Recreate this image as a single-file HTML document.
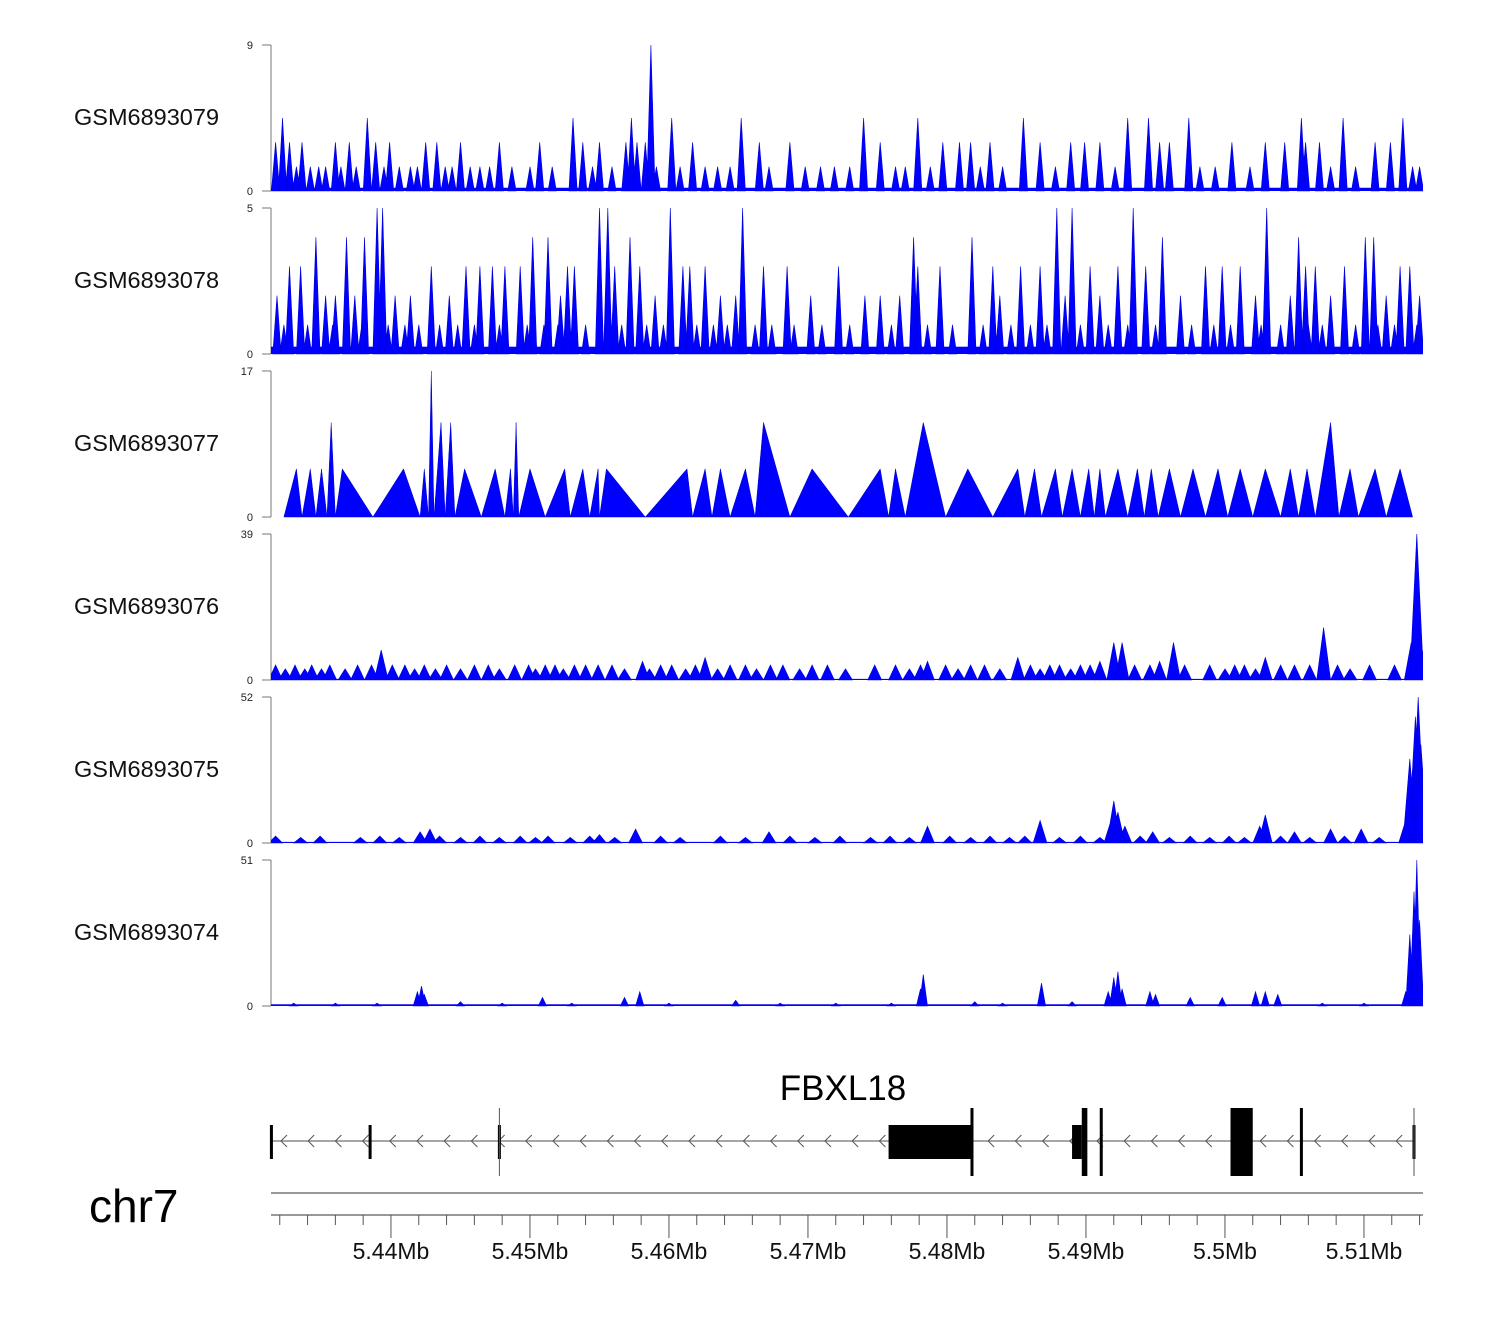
<!DOCTYPE html>
<html><head><meta charset="utf-8">
<style>
body{margin:0;background:#fff;width:1500px;height:1320px;overflow:hidden}
svg text{font-family:"Liberation Sans",sans-serif}
</style></head>
<body>
<svg id="chart" width="1500" height="1320" xmlns="http://www.w3.org/2000/svg">
<defs><clipPath id="plotclip"><rect x="271" y="0" width="1152" height="1320"/></clipPath></defs>
</svg>
<script>
// ---- data ----
const sampleNames = ["GSM6893079","GSM6893078","GSM6893077","GSM6893076","GSM6893075","GSM6893074"];
const yMax = [9,5,17,39,52,51];
const floorVals = [0.2,0.25,0,0.3,0.4,0.6];
const halfWidthKb = [0.3,0.3,0,0.5,0.5,0.3];

const t1Pos = [5431.7,5432.2,5432.7,5433.2,5433.6,5434.2,5434.8,5435.3,5436.0,5436.4,5437.0,5437.5,5438.3,5438.9,5439.5,5439.9,5440.6,5441.4,5441.9,5442.5,5443.3,5443.9,5444.4,5445.0,5445.7,5446.4,5447.1,5447.8,5448.7,5450.0,5450.7,5451.6,5453.1,5453.8,5454.5,5455.0,5455.9,5456.9,5457.3,5457.7,5458.3,5458.7,5459.1,5460.2,5460.8,5461.7,5462.6,5463.5,5464.4,5465.2,5466.5,5467.2,5468.7,5469.8,5470.9,5471.9,5473.0,5474.0,5475.2,5476.3,5477.0,5477.9,5478.8,5479.7,5480.9,5481.7,5482.4,5483.1,5484.0,5485.5,5486.7,5487.8,5488.9,5489.9,5491.0,5492.1,5493.0,5494.5,5495.3,5496.0,5497.4,5498.2,5499.3,5500.5,5501.8,5502.9,5504.3,5505.5,5505.8,5506.8,5507.6,5508.5,5509.4,5510.8,5511.9,5512.8,5513.5,5514.0];
const t1Val = [3,4.5,3,1.5,3,1.5,1.5,1.5,3,1.5,3,1.5,4.5,3,1.5,3,1.5,1.5,1.5,3,3,1.5,1.5,3,1.5,1.5,1.5,3,1.5,1.5,3,1.5,4.5,3,1.5,3,1.5,3,4.5,3,3,9,1.5,4.5,1.5,3,1.5,1.5,1.5,4.5,3,1.5,3,1.5,1.5,1.5,1.5,4.5,3,1.5,1.5,4.5,1.5,3,3,3,1.5,3,1.5,4.5,3,1.5,3,3,3,1.5,4.5,4.5,3,3,4.5,1.5,1.5,3,1.5,3,3,4.5,3,3,1.5,4.5,1.5,3,3,4.5,1.5,1.5];

const t2Pos = [5439.0,5439.4,5455.0,5455.6,5460.1,5465.3,5487.9,5489.0,5493.4,5503.0,
 5434.6,5436.8,5438.1,5450.2,5451.3,5457.2,5477.6,5481.8,5495.5,5505.3,5510.1,5510.7,
 5432.7,5433.5,5442.9,5445.4,5446.4,5447.3,5448.2,5449.3,5452.7,5453.2,5456.1,5457.9,5461.0,5461.5,5462.6,5466.8,5468.5,5472.2,5477.9,5479.5,5483.3,5485.3,5486.7,5490.3,5492.3,5494.3,5498.6,5499.8,5501.1,5505.8,5506.5,5508.6,5512.6,5513.3,
 5431.8,5435.3,5436.0,5437.4,5440.3,5441.4,5444.2,5452.2,5459.0,5463.7,5464.8,5470.2,5474.1,5475.2,5476.6,5483.8,5488.5,5491.0,5496.8,5502.2,5504.7,5507.6,5511.6,5514.0,
 5432.3,5434.0,5435.8,5437.9,5439.8,5441.0,5442.0,5443.5,5444.8,5446.0,5447.8,5449.8,5451.0,5452.0,5454.0,5456.6,5458.4,5459.6,5462.0,5463.2,5464.2,5466.2,5467.4,5469.0,5471.0,5473.0,5476.0,5478.6,5480.4,5482.6,5484.6,5486.0,5487.2,5489.6,5491.6,5493.0,5495.0,5497.6,5499.2,5500.4,5502.6,5504.0,5506.0,5507.0,5509.4,5511.0,5512.2,5513.8];
const t2Val = [5,5,5,5,5,5,5,5,5,5,
 4,4,4,4,4,4,4,4,4,4,4,4,
 3,3,3,3,3,3,3,3,3,3,3,3,3,3,3,3,3,3,3,3,3,3,3,3,3,3,3,3,3,3,3,3,3,3,
 2,2,2,2,2,2,2,2,2,2,2,2,2,2,2,2,2,2,2,2,2,2,2,2,
 1,1,1,1,1,1,1,1,1,1,1,1,1,1,1,1,1,1,1,1,1,1,1,1,1,1,1,1,1,1,1,1,1,1,1,1,1,1,1,1,1,1,1,1,1,1,1,1];

const t3Pos = [5432.3,5433.2,5433.6,5434.2,5434.6,5435.0,5435.4,5435.7,5436.0,5436.5,5438.7,5440.9,5442.1,5442.4,5442.7,5442.9,5443.1,5443.6,5443.9,5444.3,5444.6,5445.3,5446.5,5447.5,5448.2,5448.6,5448.8,5449.0,5449.2,5450.0,5451.1,5452.5,5452.9,5453.8,5454.3,5454.9,5455.0,5455.5,5458.3,5461.3,5461.7,5462.6,5463.1,5463.7,5464.4,5465.5,5466.2,5466.8,5468.7,5470.3,5472.9,5475.2,5475.8,5476.3,5477.0,5478.3,5479.9,5481.5,5483.3,5485.1,5485.6,5486.3,5486.8,5487.8,5488.3,5489.0,5489.6,5490.2,5490.6,5491.0,5491.4,5492.3,5493.0,5493.7,5494.2,5494.7,5495.2,5496.0,5496.8,5497.7,5498.6,5499.5,5500.2,5501.1,5502.0,5502.9,5504.0,5504.7,5505.3,5505.9,5506.5,5507.6,5508.2,5509.0,5509.6,5510.8,5511.6,5512.6,5513.5];
const t3Val = [0,5.6,0,5.6,0,5.6,0,11,0,5.6,0,5.6,0,5.6,0,17,0,11,0,11,0,5.6,0,5.6,0,5.6,0,11,0,5.6,0,5.6,0,5.6,0,5.6,0,5.6,0,5.6,0,5.6,0,5.6,0,5.6,0,11,0,5.6,0,5.6,0,5.6,0,11,0,5.6,0,5.6,0,5.6,0,5.6,0,5.6,0,5.6,0,5.6,0,5.6,0,5.6,0,5.6,0,5.6,0,5.6,0,5.6,0,5.6,0,5.6,0,5.6,0,5.6,0,11,0,5.6,0,5.6,0,5.6,0];

const t4Pos = [5431.7,5432.4,5433.1,5433.8,5434.3,5435.0,5435.6,5436.7,5437.6,5438.6,5439.3,5440.1,5441.0,5441.7,5442.4,5443.2,5444.0,5445.0,5446.0,5447.0,5447.8,5448.9,5449.9,5450.4,5451.1,5451.8,5452.4,5453.2,5454.0,5454.9,5455.9,5456.8,5458.1,5458.6,5459.4,5460.2,5461.2,5461.9,5462.6,5463.5,5464.4,5465.5,5466.3,5467.3,5468.2,5469.4,5470.3,5471.4,5472.7,5474.8,5476.3,5477.3,5478.1,5478.6,5479.9,5480.8,5481.7,5482.7,5483.8,5485.1,5486.0,5486.7,5487.4,5488.1,5488.9,5489.6,5490.3,5491.0,5492.0,5492.6,5493.5,5494.6,5495.3,5496.3,5497.1,5498.9,5500.0,5500.7,5501.4,5502.2,5502.9,5504.0,5505.0,5506.1,5507.1,5508.1,5509.0,5510.4,5512.2,5513.4,5513.8,5514.1];
const t4Val = [4,3,4,3,4,3,4,3,4,4,8,4,4,3,4,3,4,3,4,4,3,4,4,3,4,4,3,4,4,4,4,3,5,3,4,4,3,4,6,3,4,4,3,4,4,3,4,4,3,4,4,3,4,5,4,3,4,4,3,6,4,3,4,4,3,4,4,5,10,10,4,4,5,10,4,4,3,4,4,3,6,4,4,4,14,4,3,4,4,10,39,10];

const t5Pos = [5442.1,5442.8,5455.0,5457.6,5467.2,5478.6,5486.7,5491.8,5492.0,5492.3,5492.8,5494.8,5502.5,5502.9,5505.0,5507.6,5509.8,5513.0,5513.3,5513.7,5513.9,5514.1,
 5431.7,5433.5,5434.9,5437.8,5439.2,5440.6,5443.5,5445.0,5446.4,5447.8,5449.3,5450.4,5451.3,5452.9,5454.3,5456.1,5459.4,5460.8,5463.7,5465.5,5468.7,5470.5,5472.3,5474.5,5475.9,5477.3,5480.2,5481.7,5483.1,5484.5,5485.6,5488.1,5489.6,5491.0,5493.9,5496.0,5497.5,5498.9,5500.3,5501.4,5504.0,5506.1,5508.6,5511.1];
const t5Val = [4,5,3,5,4,6,8,8,15,11,6,4,6,10,4,5,5,8,30,45,52,35,
 2.5,2,2.5,2,2.5,2,2.5,2,2.5,2,2.5,2,2.5,2,2.5,2,2.5,2,2.5,2,2.5,2,2.5,2,2.5,2,2.5,2,2.5,2,2.5,2,2.5,2,2.5,2,2.5,2,2.5,2,2.5,2,2.5,2];

const t6Pos = [5441.9,5442.2,5442.4,5450.9,5456.8,5457.9,5464.8,5478.1,5478.3,5486.8,5491.6,5492.0,5492.3,5492.6,5494.6,5495.0,5497.5,5499.8,5502.2,5502.9,5503.8,5513.0,5513.3,5513.6,5513.8,5514.0,
 5433.0,5436.0,5439.0,5445.0,5448.0,5453.0,5460.0,5468.0,5472.0,5476.0,5482.0,5484.0,5489.0,5507.0,5510.0];
const t6Val = [5,7,4,3,3,5,2,6,11,8,5,10,12,6,5,4,3,3,5,5,4,5,25,40,51,30,
 1,1,1,1.5,1,1,1,1,1,1,1.5,1,1.5,1,1];

const trackPos = [t1Pos,t2Pos,t3Pos,t4Pos,t5Pos,t6Pos];
const trackVal = [t1Val,t2Val,t3Val,t4Val,t5Val,t6Val];

const axisMajorKb = [5440,5450,5460,5470,5480,5490,5500,5510];
const axisLabels = ["5.44Mb","5.45Mb","5.46Mb","5.47Mb","5.48Mb","5.49Mb","5.5Mb","5.51Mb"];
const exonBoxes = [[5475.8,5481.8,"short"],[5489.0,5489.7,"short"],[5489.7,5490.1,"tall"],[5500.4,5502.0,"tall"]];
const exonLines = [[5431.4,"short"],[5438.5,"short"],[5447.8,"short"],[5481.8,"tall"],[5491.1,"tall"],[5505.5,"tall"],[5513.6,"short"]];

// ---- drawing ----
const NS="http://www.w3.org/2000/svg";
const svg=document.getElementById('chart');
const kb0=5431.37, pxPerKb=13.9, X0=271, X1=1423;
function xs(kb){return X0+(kb-kb0)*pxPerKb;}
function mk(tag,attrs,parent){const e=document.createElementNS(NS,tag);for(const k in attrs)e.setAttribute(k,attrs[k]);(parent||svg).appendChild(e);return e;}

const tops=[45,208,371,534,697,860], H=146;
for(let t=0;t<6;t++){
  const top=tops[t], base=top+H, ys=v=>base-v/yMax[t]*H;
  const g=mk('g',{});
  
  
  const lab=mk('text',{x:74,y:top+80,'font-size':23.5,fill:'#111'},g);
  lab.textContent=sampleNames[t];
  
  
  mk('line',{x1:271,y1:top,x2:271,y2:base,stroke:'#777','stroke-width':1},g);
  mk('line',{x1:262,y1:top,x2:271,y2:top,stroke:'#777'},g);
  mk('line',{x1:262,y1:base,x2:271,y2:base,stroke:'#777'},g);
  const tm=mk('text',{x:253,y:top+4,'font-size':11,'text-anchor':'end',fill:'#222'},g);tm.textContent=yMax[t];
  
  
  const t0=mk('text',{x:253,y:base+4,'font-size':11,'text-anchor':'end',fill:'#222'},g);t0.textContent='0';
  
  
  const pg=mk('g',{'clip-path':'url(#plotclip)'},g);
  const P=trackPos[t], V=trackVal[t];
  if(halfWidthKb[t]===0){
    let d='M'+xs(P[0])+','+base;
    for(let i=0;i<P.length;i++) d+=' L'+xs(P[i]).toFixed(1)+','+ys(V[i]).toFixed(1);
    d+=' L'+xs(P[P.length-1])+','+base+' Z';
    const p=mk('path',{d:d,fill:'#0000ff',stroke:'#0000cc','stroke-width':0.5},pg);
    
    
  } else {
    if(floorVals[t]>0){
      const r=mk('rect',{x:X0,y:ys(floorVals[t]),width:X1-X0,height:base-ys(floorVals[t]),fill:'#0000ff'},pg);
      
      
    }
    const hw=halfWidthKb[t];
    let d='';
    for(let i=0;i<P.length;i++){
      d+='M'+xs(P[i]-hw).toFixed(1)+','+base+' L'+xs(P[i]).toFixed(1)+','+ys(V[i]).toFixed(1)+' L'+xs(P[i]+hw).toFixed(1)+','+base+' Z ';
    }
    const p=mk('path',{d:d,fill:'#0000ff',stroke:'#0000dd','stroke-width':0.6},pg);
    
    
  }
}

// gene model
const gg=mk('g',{});


const gl=mk('text',{x:843,y:1100,'font-size':35,'text-anchor':'middle',fill:'#000'},gg);gl.textContent='FBXL18';


mk('line',{x1:xs(5431.4),y1:1141,x2:xs(5513.6),y2:1141,stroke:'#888','stroke-width':1.5},gg);
for(let x=281;x<1410;x+=27.2){
  mk('path',{d:'M'+(x+6)+',1135 L'+x+',1141 L'+(x+6)+',1147',fill:'none',stroke:'#555','stroke-width':1},gg);
}
exonBoxes.forEach(e=>{
  const tall=e[2]==='tall';
  const r=mk('rect',{x:xs(e[0]),y:tall?1108:1125,width:xs(e[1])-xs(e[0]),height:tall?68:34,fill:'#000'},gg);
  
  
});
exonLines.forEach(e=>{
  const tall=e[1]==='tall';
  const l=mk('rect',{x:xs(e[0])-1.5,y:tall?1108:1125,width:3,height:tall?68:34,fill:'#000'},gg);
  
  
});
mk('line',{x1:xs(5447.8),y1:1108,x2:xs(5447.8),y2:1176,stroke:'#555'},gg);
mk('line',{x1:xs(5513.6),y1:1108,x2:xs(5513.6),y2:1176,stroke:'#555'},gg);

// axis
const ag=mk('g',{});


mk('line',{x1:X0,y1:1193,x2:X1,y2:1193,stroke:'#333'},ag);
mk('line',{x1:X0,y1:1215,x2:X1,y2:1215,stroke:'#333'},ag);
for(let k=5432;k<=5514;k+=2){
  const major=axisMajorKb.indexOf(k)>=0;
  mk('line',{x1:xs(k),y1:1215,x2:xs(k),y2:major?1238:1225,stroke:'#555'},ag);
}
axisMajorKb.forEach((k,i)=>{
  const tx=mk('text',{x:xs(k),y:1259,'font-size':23,'text-anchor':'middle',fill:'#111'},ag);
  tx.textContent=axisLabels[i];
  
  
});
const chr=mk('text',{x:89,y:1222,'font-size':46,fill:'#000'});
chr.textContent='chr7';


</script>
</body></html>
